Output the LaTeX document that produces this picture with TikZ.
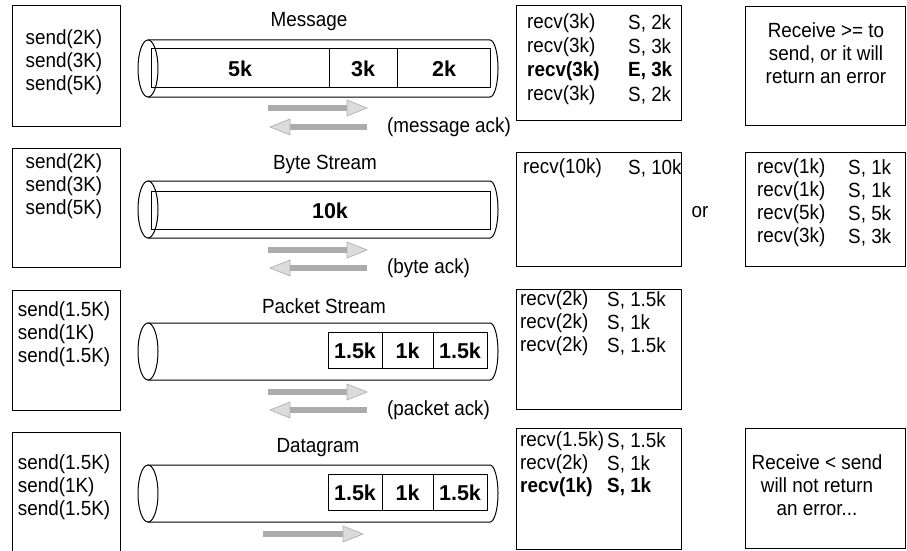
\documentclass[tikz,border=0pt]{standalone}
\usepackage{fontspec}
\setmainfont[FakeStretch=0.92]{Liberation Sans}
\newfontfamily\lblfont{Liberation Sans}
\tikzset{
  txt/.style={font=\fontsize{20.5}{23}\selectfont, inner sep=0pt},
  lbl/.style={font=\lblfont\bfseries\fontsize{21.5}{24}\selectfont, inner sep=0pt},
  frame/.style={draw, line width=1pt},
  pipe/.style={draw, line width=1pt},
  shaftfill/.style={fill=gray!65, draw=none},
  tipfill/.style={fill=gray!28, draw=gray!60, line width=0.7pt},
}
% right-pointing arrow: x1, x2, y
\newcommand{\myRArrow}[3]{%
  \fill[shaftfill] (#1,#3-2.6) rectangle (#2-18,#3+2.6);
  \filldraw[tipfill] (#2-20,#3-8) -- (#2,#3) -- (#2-20,#3+8) -- cycle;
}
% left-pointing arrow: x1 (tip), x2 (tail), y
\newcommand{\myLArrow}[3]{%
  \fill[shaftfill] (#1+18,#3-2.6) rectangle (#2,#3+2.6);
  \filldraw[tipfill] (#1+20,#3-8) -- (#1,#3) -- (#1+20,#3+8) -- cycle;
}
% pipe: top y, bottom y
\newcommand{\myPipe}[2]{%
  \draw[pipe] (148,{(#1+#2)/2}) ellipse [x radius=10, y radius={(#2-#1)/2}];
  \draw[pipe] (148,#1) -- (490,#1)
    .. controls (494.4,#1) and (498,{(#1+#2)/2-0.276*(#2-#1)}) .. (498,{(#1+#2)/2})
    .. controls (498,{(#1+#2)/2+0.276*(#2-#1)}) and (494.4,#2) .. (490,#2) -- (148,#2);
}
\begin{document}
\begin{tikzpicture}[x=1pt,y=-1pt]
\useasboundingbox (0,0) rectangle (907,551);
\fill[white] (0,0) rectangle (907,551);

% ================= Row 1: Message =================
\draw[frame] (12,6) rectangle (120,126);
\node[txt, align=left] (s1) at (64,62) {send(2K)\\send(3K)\\send(5K)};
\node[txt] (t1) at (309,22) {Message};
\myPipe{40}{97}
\draw[frame] (151,49) rectangle (490,87);
\draw[line width=0.8pt] (329,49) -- (329,87);
\draw[line width=0.8pt] (397,49) -- (397,87);
\node[lbl] (m5) at (240,69) {5k};
\node[lbl] (m3) at (363,69) {3k};
\node[lbl] (m2) at (444,69) {2k};
\myRArrow{268}{367}{108}
\myLArrow{270}{367}{127}
\node[txt, anchor=west] (a1) at (387,127) {(message ack)};
\draw[frame] (516,6) rectangle (681,120);
\node[txt, anchor=west] (r1a) at (527,23) {recv(3k)};
\node[txt, anchor=west] (r1b) at (527,47) {recv(3k)};
\node[txt, anchor=west] (r1c) at (527,71) {\bfseries recv(3k)};
\node[txt, anchor=west] (r1d) at (527,95) {recv(3k)};
\node[txt, anchor=west] (q1a) at (628,23) {S, 2k};
\node[txt, anchor=west] (q1b) at (628,47) {S, 3k};
\node[txt, anchor=west] (q1c) at (628,71) {\bfseries E, 3k};
\node[txt, anchor=west] (q1d) at (628,95) {S, 2k};
\draw[frame] (745,7) rectangle (905,125);
\node[txt, align=center] (n1) at (826,53) {Receive >= to\\send, or it will\\return an error};

% ================= Row 2: Byte Stream =================
\draw[frame] (12,148) rectangle (120,267);
\node[txt, align=left] (s2) at (64,186) {send(2K)\\send(3K)\\send(5K)};
\node[txt] (t2) at (325,164) {Byte Stream};
\myPipe{181}{238}
\draw[frame] (151,191) rectangle (490,229);
\node[lbl] (b10) at (330,211) {10k};
\myRArrow{268}{367}{250}
\myLArrow{270}{367}{268}
\node[txt, anchor=west] (a2) at (387,268) {(byte ack)};
\draw[frame] (516,152) rectangle (681,266);
\node[txt, anchor=west] (r2a) at (523,168) {recv(10k)};
\node[txt, anchor=west] (q2a) at (628,168) {S, 10k};
\node[txt] (or) at (700,212) {or};
\draw[frame] (745,152) rectangle (905,266);
\node[txt, anchor=west] (u2a) at (757,168) {recv(1k)};
\node[txt, anchor=west] (u2b) at (757,191) {recv(1k)};
\node[txt, anchor=west] (u2c) at (757,214) {recv(5k)};
\node[txt, anchor=west] (u2d) at (757,237) {recv(3k)};
\node[txt, anchor=west] (v2a) at (848,168) {S, 1k};
\node[txt, anchor=west] (v2b) at (848,191) {S, 1k};
\node[txt, anchor=west] (v2c) at (848,214) {S, 5k};
\node[txt, anchor=west] (v2d) at (848,237) {S, 3k};

% ================= Row 3: Packet Stream =================
\draw[frame] (12,290) rectangle (120,410);
\node[txt, align=left] (s3) at (64,334) {send(1.5K)\\send(1K)\\send(1.5K)};
\node[txt] (t3) at (324,306) {Packet Stream};
\myPipe{323}{380}
\draw[frame] (328,332) rectangle (487,368);
\draw[line width=0.8pt] (382,332) -- (382,368);
\draw[line width=0.8pt] (433,332) -- (433,368);
\node[lbl] (p1) at (355,351) {1.5k};
\node[lbl] (p2) at (407.5,351) {1k};
\node[lbl] (p3) at (460,351) {1.5k};
\myRArrow{268}{367}{392}
\myLArrow{270}{367}{410}
\node[txt, anchor=west] (a3) at (387,410) {(packet ack)};
\draw[frame] (516,289) rectangle (681,409);
\node[txt, anchor=west] (r3a) at (520,300) {recv(2k)};
\node[txt, anchor=west] (r3b) at (520,323) {recv(2k)};
\node[txt, anchor=west] (r3c) at (520,346) {recv(2k)};
\node[txt, anchor=west] (q3a) at (607,300) {S, 1.5k};
\node[txt, anchor=west] (q3b) at (607,323) {S, 1k};
\node[txt, anchor=west] (q3c) at (607,346) {S, 1.5k};

% ================= Row 4: Datagram =================
\draw[line width=1pt] (12,560) -- (12,432) -- (120,432) -- (120,560);
\node[txt, align=left] (s4) at (64,487) {send(1.5K)\\send(1K)\\send(1.5K)};
\node[txt] (t4) at (318,448) {Datagram};
\myPipe{465}{522}
\draw[frame] (328,474) rectangle (487,510);
\draw[line width=0.8pt] (382,474) -- (382,510);
\draw[line width=0.8pt] (433,474) -- (433,510);
\node[lbl] (d1) at (355,493) {1.5k};
\node[lbl] (d2) at (407.5,493) {1k};
\node[lbl] (d3) at (460,493) {1.5k};
\myRArrow{263}{363}{534}
\draw[frame] (516,428) rectangle (681,549);
\node[txt, anchor=west] (r4a) at (520,441) {recv(1.5k)};
\node[txt, anchor=west] (r4b) at (520,464) {recv(2k)};
\node[txt, anchor=west] (r4c) at (520,487) {\bfseries recv(1k)};
\node[txt, anchor=west] (q4a) at (607,441) {S, 1.5k};
\node[txt, anchor=west] (q4b) at (607,464) {S, 1k};
\node[txt, anchor=west] (q4c) at (607,487) {\bfseries S, 1k};
\draw[frame] (745,428) rectangle (905,548);
\node[txt, align=center] (n4) at (817,485) {Receive < send\\will not return\\an error...};
\end{tikzpicture}
\end{document}
